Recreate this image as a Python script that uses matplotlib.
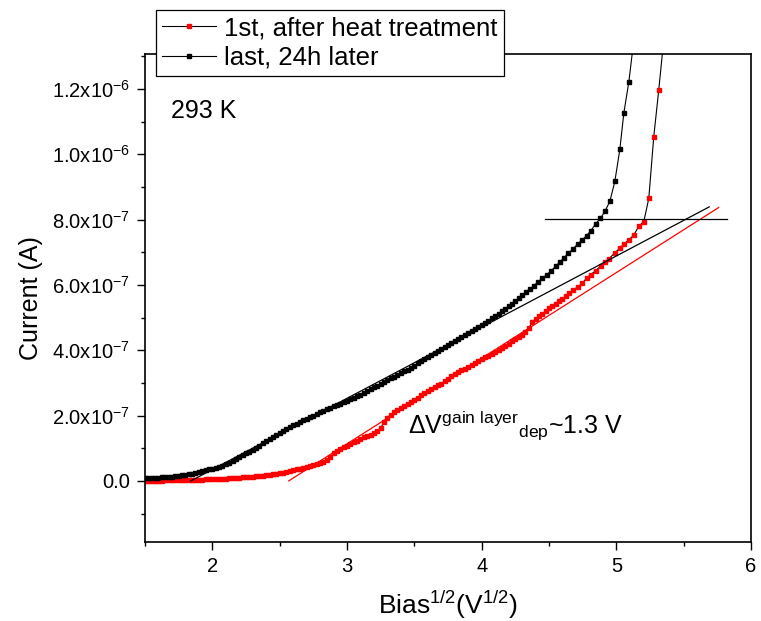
import matplotlib
matplotlib.use("Agg")
import matplotlib.pyplot as plt
from matplotlib.ticker import MultipleLocator, FuncFormatter
import numpy as np

plt.rcParams['font.family'] = ['Liberation Sans', 'DejaVu Sans']
plt.rcParams['mathtext.fontset'] = 'custom'
plt.rcParams['mathtext.rm'] = 'Liberation Sans'
plt.rcParams['mathtext.it'] = 'Liberation Sans:italic'

# sqrt(bias) values and current (units of 1e-7 A)
last_x = [1.500, 1.525, 1.550, 1.575, 1.600, 1.625, 1.650, 1.675, 1.700, 1.725,
          1.750, 1.775, 1.800, 1.825, 1.850, 1.875, 1.900, 1.925, 1.950, 1.975,
          2.000, 2.025, 2.050, 2.075, 2.100, 2.125, 2.150, 2.175, 2.200, 2.225,
          2.250, 2.275, 2.300, 2.325, 2.350, 2.375, 2.400, 2.425, 2.450, 2.475,
          2.500, 2.525, 2.550, 2.575, 2.600, 2.625, 2.650, 2.675, 2.700, 2.725,
          2.750, 2.775, 2.800, 2.825, 2.850, 2.875, 2.900, 2.925, 2.950, 2.975,
          3.000, 3.025, 3.050, 3.075, 3.100, 3.125, 3.150, 3.175, 3.200, 3.225,
          3.250, 3.275, 3.300, 3.325, 3.350, 3.375, 3.400, 3.425, 3.450, 3.475,
          3.500, 3.525, 3.550, 3.575, 3.600, 3.625, 3.650, 3.675, 3.700, 3.725,
          3.750, 3.775, 3.800, 3.825, 3.850, 3.875, 3.900, 3.925, 3.950, 3.975,
          4.000, 4.025, 4.050, 4.075, 4.100, 4.125, 4.150, 4.175, 4.200, 4.225,
          4.250, 4.275, 4.300, 4.327, 4.359, 4.389, 4.420, 4.450, 4.483, 4.517,
          4.550, 4.579, 4.611, 4.643, 4.678, 4.712, 4.747, 4.779, 4.811, 4.846,
          4.882, 4.915, 4.952, 4.989, 5.026, 5.056, 5.093, 5.130]
last_y = [0.08, 0.085, 0.09, 0.095, 0.10, 0.11, 0.12, 0.12, 0.13, 0.14,
          0.15, 0.17, 0.18, 0.20, 0.22, 0.25, 0.27, 0.30, 0.32, 0.35,
          0.37, 0.40, 0.43, 0.47, 0.51, 0.56, 0.61, 0.66, 0.72, 0.78,
          0.84, 0.90, 0.96, 1.02, 1.08, 1.15, 1.21, 1.28, 1.35, 1.42,
          1.48, 1.54, 1.59, 1.65, 1.70, 1.75, 1.80, 1.85, 1.90, 1.95,
          2.00, 2.05, 2.10, 2.15, 2.19, 2.24, 2.28, 2.33, 2.37, 2.42,
          2.46, 2.50, 2.54, 2.59, 2.63, 2.69, 2.75, 2.81, 2.87, 2.92,
          2.98, 3.03, 3.08, 3.14, 3.19, 3.25, 3.30, 3.36, 3.41, 3.47,
          3.53, 3.60, 3.66, 3.73, 3.80, 3.86, 3.92, 3.99, 4.05, 4.11,
          4.16, 4.22, 4.28, 4.34, 4.40, 4.46, 4.52, 4.58, 4.64, 4.70,
          4.76, 4.83, 4.90, 4.98, 5.05, 5.12, 5.20, 5.27, 5.35, 5.43,
          5.51, 5.60, 5.68, 5.78, 5.88, 5.98, 6.10, 6.20, 6.31, 6.44,
          6.57, 6.70, 6.83, 6.97, 7.10, 7.25, 7.38, 7.51, 7.66, 7.87,
          8.04, 8.25, 8.56, 9.17, 10.15, 11.27, 12.22, 13.50]

first_x = [1.500, 1.525, 1.550, 1.575, 1.600, 1.625, 1.650, 1.675, 1.700, 1.725,
           1.750, 1.775, 1.800, 1.825, 1.850, 1.875, 1.900, 1.925, 1.950, 1.975,
           2.000, 2.025, 2.050, 2.075, 2.100, 2.125, 2.150, 2.175, 2.200, 2.225,
           2.250, 2.275, 2.300, 2.325, 2.350, 2.375, 2.400, 2.425, 2.450, 2.475,
           2.500, 2.525, 2.550, 2.575, 2.600, 2.625, 2.650, 2.675, 2.700, 2.725,
           2.750, 2.775, 2.800, 2.825, 2.850, 2.875, 2.900, 2.925, 2.950, 2.975,
           3.000, 3.025, 3.050, 3.075, 3.100, 3.125, 3.150, 3.175, 3.200, 3.225,
           3.250, 3.275, 3.300, 3.325, 3.350, 3.375, 3.400, 3.425, 3.450, 3.475,
           3.500, 3.525, 3.550, 3.575, 3.600, 3.625, 3.650, 3.675, 3.700, 3.725,
           3.750, 3.775, 3.800, 3.825, 3.850, 3.875, 3.900, 3.925, 3.950, 3.975,
           4.000, 4.025, 4.050, 4.075, 4.100, 4.125, 4.150, 4.175, 4.200, 4.225,
           4.250, 4.275, 4.300, 4.325, 4.350, 4.375, 4.400, 4.425, 4.450, 4.475,
           4.500, 4.525, 4.550, 4.575, 4.600, 4.625, 4.650, 4.678, 4.712, 4.747,
           4.779, 4.809, 4.846, 4.883, 4.915, 4.944, 4.987, 5.024, 5.056, 5.093,
           5.130, 5.167, 5.204, 5.241, 5.278, 5.315, 5.352]
first_y = [0.00, 0.00, 0.01, 0.01, 0.01, 0.01, 0.02, 0.02, 0.02, 0.02,
           0.03, 0.03, 0.03, 0.03, 0.04, 0.04, 0.04, 0.04, 0.05, 0.05,
           0.05, 0.06, 0.06, 0.07, 0.07, 0.08, 0.09, 0.09, 0.10, 0.11,
           0.12, 0.12, 0.13, 0.14, 0.15, 0.16, 0.17, 0.18, 0.20, 0.21,
           0.23, 0.25, 0.27, 0.30, 0.32, 0.35, 0.38, 0.40, 0.43, 0.46,
           0.48, 0.51, 0.54, 0.58, 0.63, 0.72, 0.84, 0.92, 0.97, 1.03,
           1.08, 1.13, 1.18, 1.23, 1.28, 1.33, 1.37, 1.42, 1.47, 1.53,
           1.62, 1.80, 1.94, 2.03, 2.10, 2.16, 2.22, 2.28, 2.35, 2.41,
           2.47, 2.54, 2.62, 2.69, 2.76, 2.82, 2.87, 2.93, 2.98, 3.05,
           3.13, 3.20, 3.27, 3.33, 3.39, 3.44, 3.50, 3.56, 3.62, 3.67,
           3.73, 3.78, 3.83, 3.89, 3.94, 4.00, 4.07, 4.13, 4.20, 4.27,
           4.34, 4.41, 4.48, 4.57, 4.68, 4.85, 4.95, 5.04, 5.12, 5.20,
           5.28, 5.36, 5.43, 5.51, 5.58, 5.66, 5.75, 5.85, 5.93, 6.05,
           6.21, 6.31, 6.44, 6.57, 6.70, 6.80, 6.97, 7.12, 7.25, 7.38,
           7.53, 7.80, 7.94, 8.65, 10.54, 11.97, 13.50]

# linear fits and the 8e-7 reference line (end points)
fit_last_x = [1.84, 5.69]
fit_last_y = [0.0, 8.39]
fit_first_x = [2.567, 5.76]
fit_first_y = [0.0, 8.37]
ref_x = [4.47, 5.82]
ref_y = [8.03, 8.03]

scale = 1e-7

fig = plt.figure(figsize=(7.61, 6.21), dpi=100)
ax = fig.add_axes([145 / 761, 1 - 542 / 621, (751 - 145) / 761, (542 - 54) / 621])

ax.plot(first_x, np.array(first_y) * scale, color='black', lw=0.8,
        marker='s', ms=3.0, mfc='#ff0000', mec='#ff0000',
        label='1st, after heat treatment')
ax.plot(last_x, np.array(last_y) * scale, color='black', lw=0.8,
        marker='s', ms=3.0, mfc='black', mec='black',
        label='last, 24h later')

ax.plot(fit_last_x, np.array(fit_last_y) * scale, color='black', lw=0.9)
ax.plot(fit_first_x, np.array(fit_first_y) * scale, color='#ff0000', lw=0.9)
ax.plot(ref_x, np.array(ref_y) * scale, color='black', lw=0.9)

ax.set_xlim(1.5, 6.0)
ax.set_ylim(-1.87e-7, 1.307e-6)

ax.xaxis.set_major_locator(MultipleLocator(1))
ax.xaxis.set_minor_locator(MultipleLocator(0.5))
ax.yaxis.set_major_locator(MultipleLocator(2e-7))
ax.yaxis.set_minor_locator(MultipleLocator(1e-7))


def yfmt(v, pos):
    if abs(v) < 1e-12:
        return '0.0'
    exp = int(np.floor(np.log10(abs(v))))
    mant = v / 10 ** exp
    return '%.1fx10$^{%d}$' % (mant, exp)


ax.yaxis.set_major_formatter(FuncFormatter(yfmt))

ax.tick_params(which='major', direction='out', length=6, width=1.0,
               labelsize=14.5, pad=5)
ax.tick_params(which='minor', direction='out', length=3.2, width=1.0)
for s in ax.spines.values():
    s.set_linewidth(1.2)

ax.set_xlabel('Bias$^{1/2}$(V$^{1/2}$)', fontsize=19, labelpad=9)
ax.set_ylabel('Current (A)', fontsize=18, labelpad=6)

ax.text(1.69, 1.11e-6, '293 K', fontsize=18)
ax.text(3.45, 1.47e-7,
        '\u0394V$^{\\mathregular{gain\\ layer}}$$_{\\mathregular{dep}}$~1.3 V',
        fontsize=18)

leg = ax.legend(loc='upper left', bbox_to_anchor=(156 / 761, 1 - 10 / 621),
                bbox_transform=fig.transFigure, fontsize=18.5, frameon=True,
                fancybox=False, framealpha=1, edgecolor='black',
                handlelength=2.1, handletextpad=0.3, labelspacing=0.2,
                borderpad=0.25, borderaxespad=0, markerscale=0.9)
leg.get_frame().set_linewidth(0.9)

fig.savefig('out.png', dpi=100)
